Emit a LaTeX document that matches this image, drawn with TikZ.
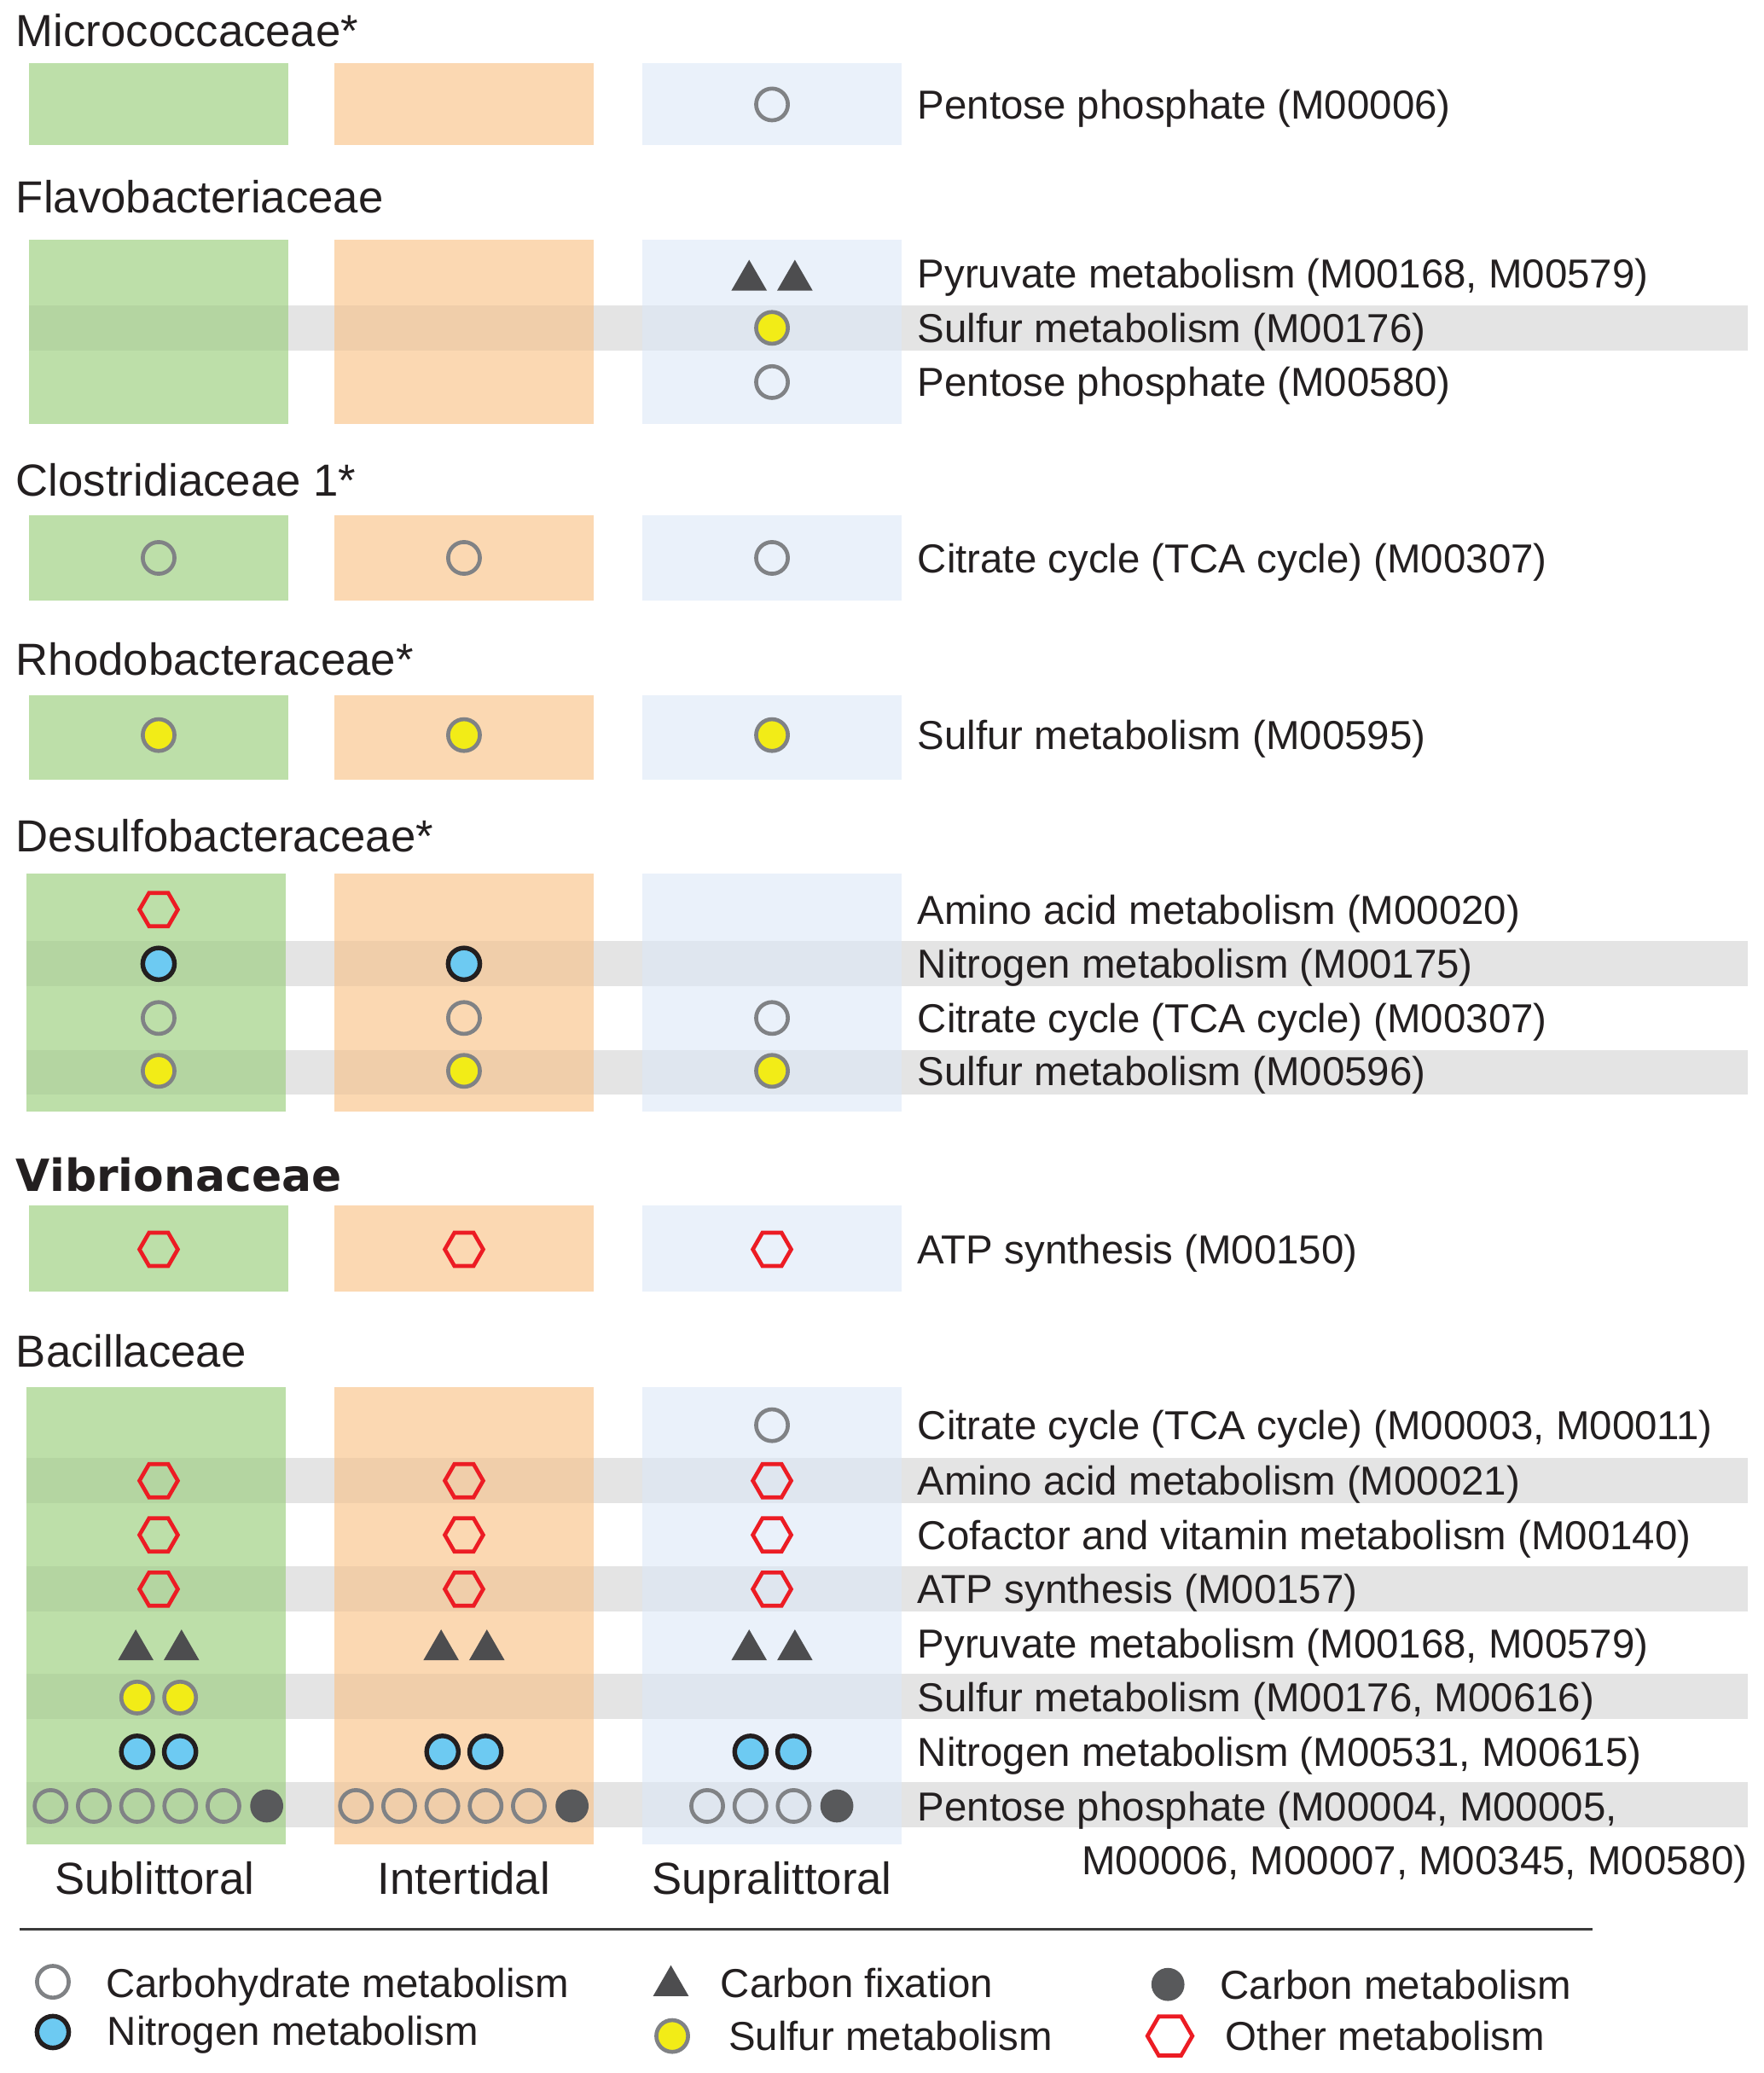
\documentclass[tikz,border=0pt]{standalone}
\usepackage{fontspec}
\usepackage{graphicx}
\setmainfont{Liberation Sans}
\newfontfamily\heavy{DejaVu Sans}
\usetikzlibrary{shapes.geometric}
\definecolor{colG}{HTML}{BDDFA9}
\definecolor{colO}{HTML}{FBD8B2}
\definecolor{colB}{HTML}{EAF1FA}
\definecolor{bandgray}{HTML}{EFEFEF}
\definecolor{txt}{HTML}{231F20}
\definecolor{ringgray}{HTML}{808285}
\definecolor{nblue}{HTML}{6DCAF2}
\definecolor{syellow}{HTML}{F2EC17}
\definecolor{cdark}{HTML}{58595B}
\definecolor{tridark}{HTML}{4D4D4F}
\definecolor{hexred}{HTML}{EC1C24}
\definecolor{rulecol}{HTML}{3A3A3A}
\newcommand\colset[3]{%
  \fill[colG] (#3,#1) rectangle ({#3+196},#2);
  \fill[colO] (253,#1) rectangle (449,#2);
  \fill[colB] (486,#1) rectangle (682,#2);}
\newcommand\mk[4]{\node[#1] (#2) at (#3,#4) {};}
\begin{document}
\begin{tikzpicture}[x=1pt,y=-1pt,
  carb/.style={circle, draw=ringgray, line width=3pt, minimum size=24pt, inner sep=0pt, outer sep=0pt},
  nitro/.style={circle, draw=txt, fill=nblue, line width=3.5pt, minimum size=24pt, inner sep=0pt, outer sep=0pt},
  sulf/.style={circle, draw=ringgray, fill=syellow, line width=3pt, minimum size=24pt, inner sep=0pt, outer sep=0pt},
  cmet/.style={circle, fill=cdark, minimum size=25pt, inner sep=0pt, outer sep=0pt},
  fix/.style={regular polygon, regular polygon sides=3, fill=tridark, minimum size=31pt, inner sep=0pt, outer sep=0pt},
  other/.style={regular polygon, regular polygon sides=6, draw=hexred, line width=3pt, minimum size=29pt, inner sep=0pt, outer sep=0pt},
  lab/.style={anchor=base west, inner sep=0pt, text=txt, font=\fontsize{30.6}{36}\selectfont},
  ttl/.style={anchor=base west, inner sep=0pt, text=txt, font=\fontsize{34}{40}\selectfont},
  clab/.style={anchor=base, inner sep=0pt, text=txt, font=\fontsize{34}{40}\selectfont},
  leg/.style={anchor=base west, inner sep=0pt, text=txt, font=\fontsize{30.6}{36}\selectfont}]
\useasboundingbox (0,0) rectangle (1334,1568);
\def\bandlist{248/22, 729/20, 811/20, 1120/20, 1202/20, 1283/20, 1365/20}
% grey bands (base)
\foreach \y/\xl in \bandlist {\fill[bandgray] (\xl,\y-17) rectangle (1322,\y+17);}
% columns
\colset{48}{110}{22}
\colset{181}{321}{22}
\colset{390}{454}{22}
\colset{526}{590}{22}
\colset{661}{841}{20}
\colset{912}{977}{22}
\colset{1049}{1395}{20}
% grey bands (overlay)
\foreach \y/\xl in \bandlist {\fill[black, fill opacity=0.045] (\xl,\y-17) rectangle (1322,\y+17);}

% titles
\node[ttl] (h1) at (12,35) {Micrococcaceae*};
\node[ttl] (h2) at (12,161) {Flavobacteriaceae};
\node[ttl] (h3) at (12,375) {Clostridiaceae 1*};
\node[ttl] (h4) at (12,511) {Rhodobacteraceae*};
\node[ttl] (h5) at (12,644) {Desulfobacteraceae*};
\node[ttl, font=\heavy\bfseries\fontsize{33.5}{40}\selectfont] (h6) at (12,901) {Vibrionaceae};
\node[ttl] (h7) at (12,1034) {Bacillaceae};

% Micrococcaceae
\mk{carb}{mi1}{584}{79}
% Flavobacteriaceae
\mk{fix}{fl1a}{566.7}{212}
\mk{fix}{fl1b}{601.3}{212}
\mk{sulf}{fl2}{584}{248}
\mk{carb}{fl3}{584}{289}
% Clostridiaceae
\mk{carb}{cl1}{120}{422}
\mk{carb}{cl2}{351}{422}
\mk{carb}{cl3}{584}{422}
% Rhodobacteraceae
\mk{sulf}{rh1}{120}{556}
\mk{sulf}{rh2}{351}{556}
\mk{sulf}{rh3}{584}{556}
% Desulfobacteraceae
\mk{other}{de1}{120}{688}
\mk{nitro}{de2}{120}{729}
\mk{nitro}{de3}{351}{729}
\mk{carb}{de4}{120}{770}
\mk{carb}{de5}{351}{770}
\mk{carb}{de6}{584}{770}
\mk{sulf}{de7}{120}{810}
\mk{sulf}{de8}{351}{810}
\mk{sulf}{de9}{584}{810}
% Vibrionaceae
\mk{other}{vi1}{120}{945}
\mk{other}{vi2}{351}{945}
\mk{other}{vi3}{584}{945}
% Bacillaceae
\mk{carb}{ba0}{584}{1078}
\foreach \c/\n in {120/g, 351/o, 584/b} {
  \node[other] (baA\n) at (\c,1120) {};
  \node[other] (baC\n) at (\c,1161) {};
  \node[other] (baT\n) at (\c,1202) {};
  \node[fix] (baP\n1) at ({\c-17.3},1248) {};
  \node[fix] (baP\n2) at ({\c+17.3},1248) {};
  \node[nitro] (baN\n1) at ({\c-16.25},1325) {};
  \node[nitro] (baN\n2) at ({\c+16.25},1325) {};
}
\mk{sulf}{baS1}{103.75}{1284}
\mk{sulf}{baS2}{136.25}{1284}
\foreach \k in {0,...,4} {
  \node[carb] (pg\k) at ({120+(\k-2.5)*32.7},1366) {};
  \node[carb] (po\k) at ({351+(\k-2.5)*32.7},1366) {};
}
\node[cmet] (pg5) at ({120+2.5*32.7},1366) {};
\node[cmet] (po5) at ({351+2.5*32.7},1366) {};
\foreach \k in {0,1,2} {
  \node[carb] (pb\k) at ({584+(\k-1.5)*32.7},1366) {};
}
\node[cmet] (pb3) at ({584+1.5*32.7},1366) {};

% labels
\node[lab] (t1) at (694,90) {Pentose phosphate (M00006)};
\node[lab] (t2) at (694,218) {Pyruvate metabolism (M00168, M00579)};
\node[lab] (t3) at (694,259) {Sulfur metabolism (M00176)};
\node[lab] (t4) at (694,300) {Pentose phosphate (M00580)};
\node[lab] (t5) at (694,433) {Citrate cycle (TCA cycle) (M00307)};
\node[lab] (t6) at (694,567) {Sulfur metabolism (M00595)};
\node[lab] (t7) at (694,699) {Amino acid metabolism (M00020)};
\node[lab] (t8) at (694,740) {Nitrogen metabolism (M00175)};
\node[lab] (t9) at (694,781) {Citrate cycle (TCA cycle) (M00307)};
\node[lab] (t10) at (694,821) {Sulfur metabolism (M00596)};
\node[lab] (t11) at (694,956) {ATP synthesis (M00150)};
\node[lab] (t12) at (694,1089) {Citrate cycle (TCA cycle) (M00003, M00011)};
\node[lab] (t13) at (694,1131) {Amino acid metabolism (M00021)};
\node[lab] (t14) at (694,1172) {Cofactor and vitamin metabolism (M00140)};
\node[lab] (t15) at (694,1213) {ATP synthesis (M00157)};
\node[lab] (t16) at (694,1254) {Pyruvate metabolism (M00168, M00579)};
\node[lab] (t17) at (694,1295) {Sulfur metabolism (M00176, M00616)};
\node[lab] (t18) at (694,1336) {Nitrogen metabolism (M00531, M00615)};
\node[lab] (t19) at (694,1377) {Pentose phosphate (M00004, M00005,};
\node[lab, anchor=base east] (t20) at (1322,1418) {M00006, M00007, M00345, M00580)};

% column labels
\node[clab] (c1) at (117,1433) {Sublittoral};
\node[clab] (c2) at (351,1433) {Intertidal};
\node[clab] (c3) at (584,1433) {Supralittoral};

% rule
\coordinate (r1) at (15,1459.5);
\coordinate (r2) at (1205,1459.5);
\draw[line width=2pt, rulecol] (r1) -- (r2);

% legend
\node[carb] (lg1) at (40,1499) {};
\node[leg] (lt1) at (80,1511) {Carbohydrate metabolism};
\node[nitro] (lg2) at (40,1537) {};
\node[leg] (lt2) at (81,1547) {Nitrogen metabolism};
\node[fix] (lg3) at (507.5,1502) {};
\node[leg] (lt3) at (545,1511) {Carbon fixation};
\node[sulf] (lg4) at (508.5,1540) {};
\node[leg] (lt4) at (551,1551) {Sulfur metabolism};
\node[cmet] (lg5) at (883.5,1501) {};
\node[leg] (lt5) at (923,1512) {Carbon metabolism};
\node[other, minimum size=34pt] (lg6) at (885,1540) {};
\node[leg] (lt6) at (927,1551) {Other metabolism};
\end{tikzpicture}
\end{document}
